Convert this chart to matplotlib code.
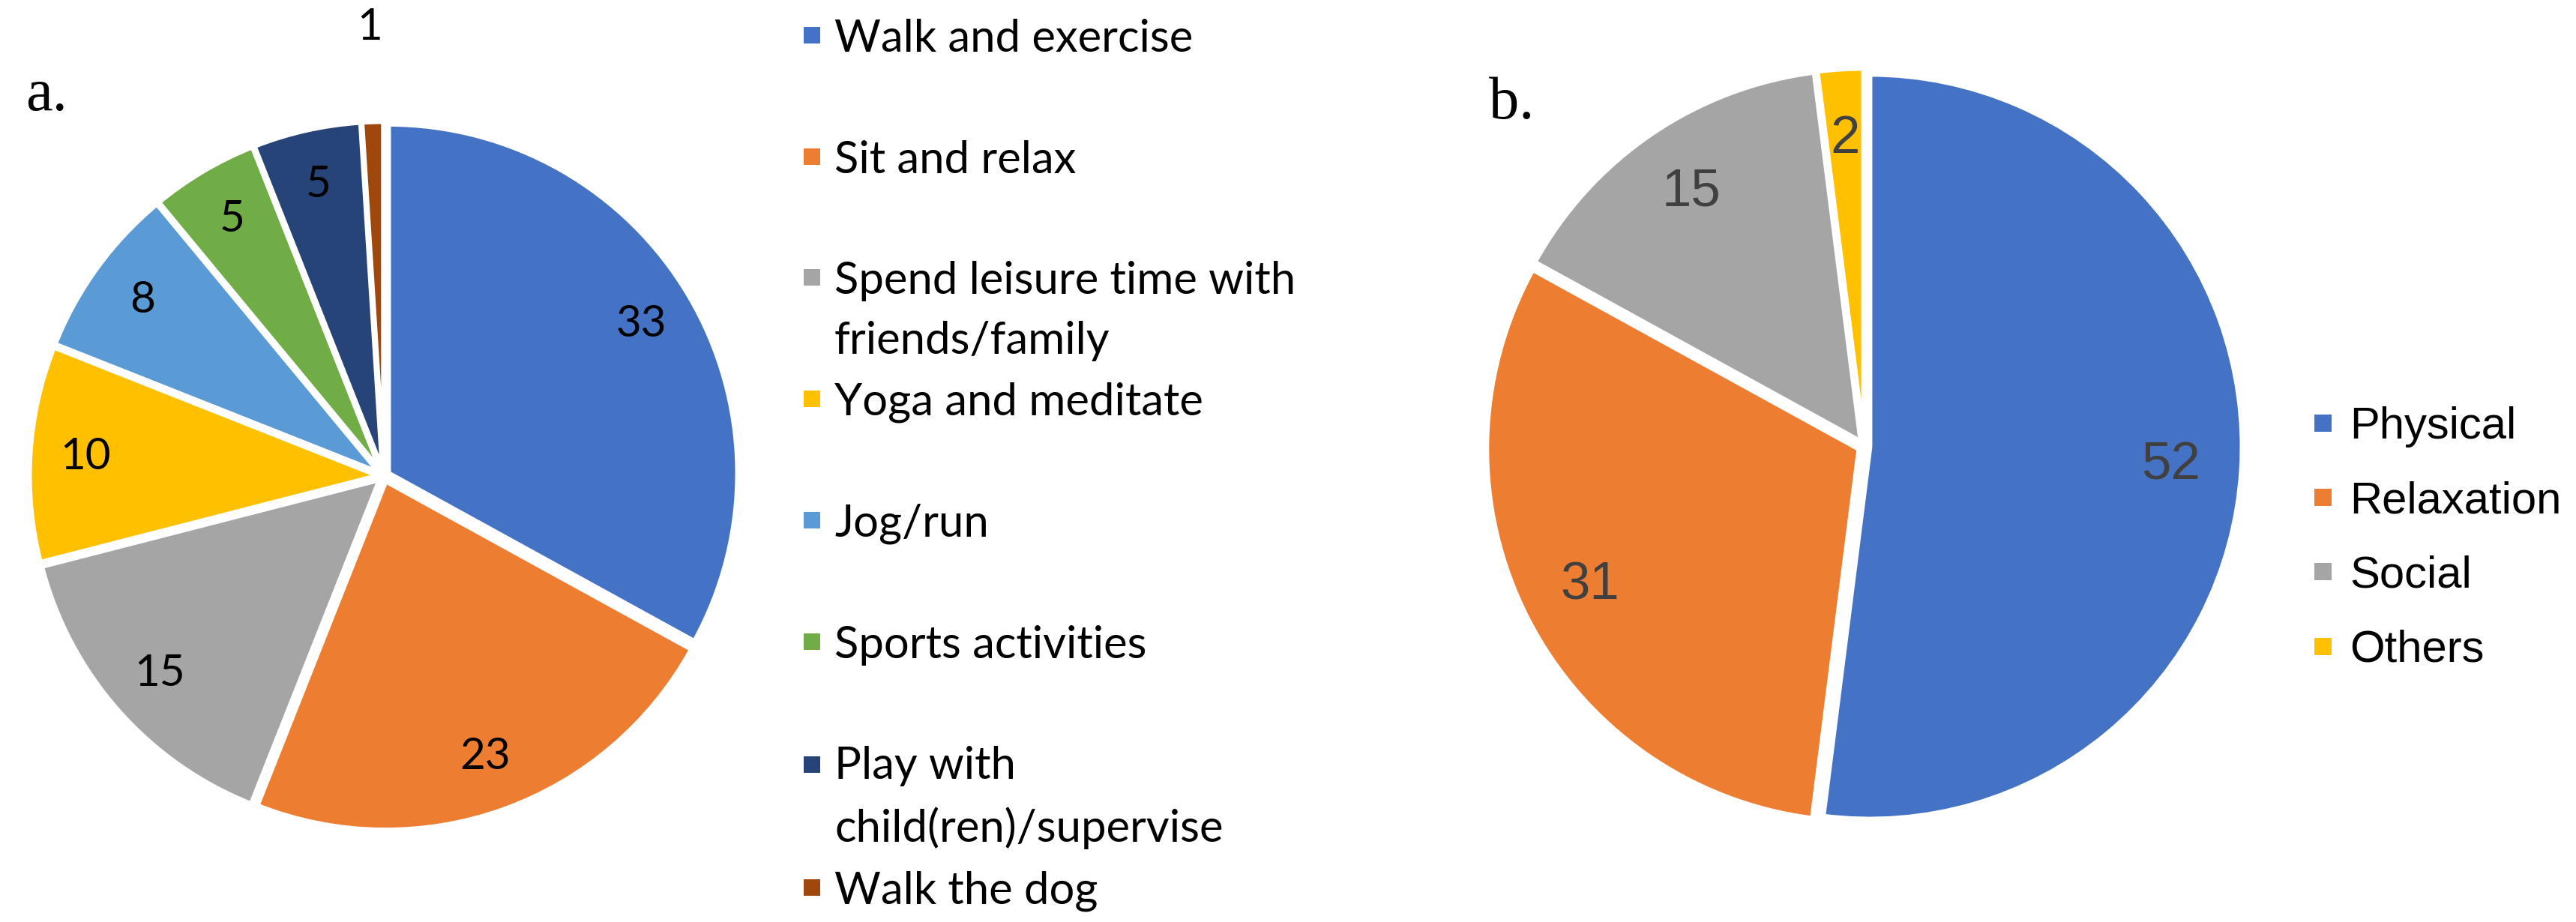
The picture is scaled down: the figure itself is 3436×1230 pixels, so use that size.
import matplotlib
matplotlib.use("Agg")
import matplotlib.pyplot as plt
import numpy as np
from matplotlib.patches import Rectangle, Wedge
from matplotlib.legend_handler import HandlerBase
from matplotlib.textpath import TextToPath
from matplotlib.font_manager import FontProperties

# ---------------- data ----------------
activities = ["Walk and exercise", "Sit and relax",
              "Spend leisure time with\nfriends/family", "Yoga and meditate",
              "Jog/run", "Sports activities",
              "Play with\nchild(ren)/supervise", "Walk the dog"]
activity_values = [33, 23, 15, 10, 8, 5, 5, 1]
activity_colors = ["#4472C4", "#ED7D31", "#A5A5A5", "#FFC000",
                   "#5B9BD5", "#70AD47", "#264478", "#9E480E"]

groups = ["Physical", "Relaxation", "Social", "Others"]
group_values = [52, 31, 15, 2]
group_colors = ["#4472C4", "#ED7D31", "#A5A5A5", "#FFC000"]

# ---------------- figure ----------------
W, H, DPI = 3437, 1230, 100
PX = 72.0 / DPI  # points per pixel
fig = plt.figure(figsize=(W / DPI, H / DPI), dpi=DPI)
fig.patch.set_facecolor("white")

FONT_A = "Lato"
FONT_B = "Liberation Sans"
ttp = TextToPath()


def metrics(s, fp):
    w, h, d = ttp.get_text_width_height_descent(s, fp, ismath=False)
    return w, h, d


def px_axes(left, top, right, bottom):
    return fig.add_axes([left / W, 1 - bottom / H, (right - left) / W, (bottom - top) / H])


def draw_pie(ax, values, colors, explode, lw):
    wedges, _ = ax.pie(values, colors=colors, startangle=90, counterclock=False,
                       explode=[explode] * len(values),
                       wedgeprops=dict(edgecolor="white", linewidth=lw, joinstyle="miter"))
    lim = 1.0 + explode
    ax.set_xlim(-lim, lim)
    ax.set_ylim(-lim, lim)
    ax.set_aspect("auto")
    ax.axis("off")
    return wedges


def label_wedges(ax, wedges, values, dist_fn, fontsize, family, color):
    for w, v in zip(wedges, values):
        mid = np.deg2rad((w.theta1 + w.theta2) / 2.0)
        d = dist_fn(v)
        cx, cy = w.center
        ax.text(cx + d * w.r * np.cos(mid), cy + d * w.r * np.sin(mid), str(v),
                ha="center", va="center", fontsize=fontsize, family=family,
                color=color, clip_on=False)


class SquareHandle(HandlerBase):
    def __init__(self, size_pt, yc_map):
        super().__init__()
        self.size = size_pt
        self.yc_map = yc_map

    def create_artists(self, legend, orig_handle, xdescent, ydescent, width, height,
                       fontsize, trans):
        yc = self.yc_map[id(orig_handle)]
        r = Rectangle((-xdescent, yc - self.size / 2.0), self.size, self.size,
                      facecolor=orig_handle.get_facecolor(), edgecolor="none",
                      transform=trans)
        return [r]


def make_legend(wedges, labels, family, fsize, x_px, first_baseline_px, entry_pitch_px,
                line_pitch_px, marker_px, gap_px, two_lines):
    fp = FontProperties(family=family, size=fsize)
    _, lp_h, lp_d = metrics("lp", fp)
    asc = lp_h - lp_d
    _, cap_h, _ = metrics("H", fp)
    yc_map = {}
    if two_lines:
        pitch = line_pitch_px * PX
        ls = (pitch - lp_d) / asc
        n = len(labels)
        labels = [l if ("\n" in l or i == n - 1) else l + "\n " for i, l in enumerate(labels)]
        box_h = asc + pitch + lp_d
        for w, l in zip(wedges, labels):
            if "\n" in l:
                # multi-line legend text is centred on the item baseline
                yc_map[id(w)] = 0.5 * (box_h - asc) + cap_h / 2.0
            else:
                yc_map[id(w)] = cap_h / 2.0
    else:
        ls = 1.2
        box_h = lp_h
        for w in wedges:
            yc_map[id(w)] = cap_h / 2.0
    spacing = (entry_pitch_px * PX - box_h) / fsize
    s = marker_px * PX
    top_px = first_baseline_px - asc / PX
    leg = fig.legend(wedges, labels, loc="upper left",
                     bbox_to_anchor=(x_px / W, 1 - top_px / H),
                     bbox_transform=fig.transFigure,
                     frameon=False, borderpad=0, borderaxespad=0,
                     handlelength=s / fsize, handleheight=0.35,
                     handletextpad=gap_px * PX / fsize, labelspacing=spacing,
                     prop=fp, handler_map={Wedge: SquareHandle(s, yc_map)})
    for t in leg.get_texts():
        t.set_linespacing(ls)
        t.set_color("black")
    return leg


# ---------------- panel a ----------------
ax_a = px_axes(39, 162, 985, 1108)
wa = draw_pie(ax_a, activity_values, activity_colors, 0.015, 5)
label_wedges(ax_a, wa, activity_values, lambda v: 1.27 if v < 3 else 0.84,
             42, FONT_A, "black")
make_legend(wa, activities, FONT_A, 43, 1072, 69, 162, 80, 22, 19, True)
fig.text(34 / W, 1 - 147 / H, "a.", family="Liberation Serif", fontsize=58,
         ha="left", va="baseline")

# ---------------- panel b ----------------
ax_b = px_axes(1982, 91, 2991, 1100)
wb = draw_pie(ax_b, group_values, group_colors, 0.015, 5)
label_wedges(ax_b, wb, group_values, lambda v: 0.81, 51, FONT_B, "#404040")
make_legend(wb, groups, FONT_B, 43, 3087, 585, 100, 0, 23, 24, False)
fig.text(1986 / W, 1 - 158 / H, "b.", family="Liberation Serif", fontsize=58,
         ha="left", va="baseline")

fig.savefig("out.png", dpi=DPI, facecolor="white")
